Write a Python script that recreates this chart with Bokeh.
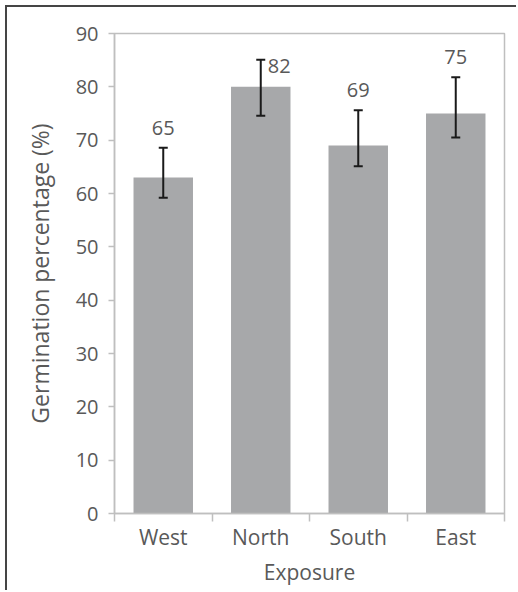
from bokeh.plotting import figure
from bokeh.models import ColumnDataSource, FixedTicker, Range1d
from bokeh.core.properties import value
from bokeh.embed import file_html
from bokeh.resources import INLINE

categories = ["West", "North", "South", "East"]
germination = [63, 80, 69, 75]
err_low = [59.2, 74.6, 65.1, 70.5]
err_high = [68.6, 85.1, 75.6, 81.8]
label_values = ["65", "82", "69", "75"]
y_ticks = [0, 10, 20, 30, 40, 50, 60, 70, 80, 90]

FONT = "Open Sans"
TXT = "#595959"
AXC = "#BFBFBF"

xpos = [i + 0.5 for i in range(len(categories))]
src = ColumnDataSource(dict(x=xpos, top=germination, lo=err_low, hi=err_high))

p = figure(width=511, height=585, output_backend="svg", toolbar_location=None,
           x_range=Range1d(0, len(categories)), y_range=Range1d(0, 90),
           min_border_left=107, min_border_right=14, min_border_top=26, min_border_bottom=79)
p.margin = (5, 0, 0, 5)
p.styles = {"border-left": "2px solid #454545", "border-top": "2px solid #454545"}
p.outline_line_color = AXC
p.outline_line_width = 1.5
p.xgrid.visible = False
p.ygrid.visible = False

p.vbar(x="x", top="top", width=0.61, source=src, fill_color="#A7A8AA", line_color=None)

# error bars with caps, drawn above bars
p.segment(x0="x", y0="lo", x1="x", y1="hi", source=src, line_color="#1a1a1a", line_width=2)
p.rect(x="x", y="lo", width=9, height=2, width_units="screen", height_units="screen",
       source=src, fill_color="#1a1a1a", line_color=None)
p.rect(x="x", y="hi", width=9, height=2, width_units="screen", height_units="screen",
       source=src, fill_color="#1a1a1a", line_color=None)

# labels above error bars (North's label sits to the right of its cap)
north = categories.index("North")
others = [i for i in range(len(categories)) if i != north]
src_o = ColumnDataSource(dict(x=[xpos[i] for i in others], y=[err_high[i] for i in others],
                              lab=[label_values[i] for i in others]))
p.text(x="x", y="y", text="lab", source=src_o, text_font=value(FONT), text_font_size="20px",
       text_color=TXT, text_align="center", text_baseline="middle", y_offset=-20)
src_n = ColumnDataSource(dict(x=[xpos[north]], y=[err_high[north]], lab=[label_values[north]]))
p.text(x="x", y="y", text="lab", source=src_n, text_font=value(FONT), text_font_size="20px",
       text_color=TXT, text_align="left", text_baseline="middle", x_offset=7, y_offset=6)

# x axis: ticks at category boundaries, labels at centres
xa = p.xaxis[0]
xa.ticker = FixedTicker(ticks=xpos, minor_ticks=list(range(len(categories) + 1)))
xa.major_label_overrides = {x: c for x, c in zip(xpos, categories)}
xa.major_tick_line_color = None
xa.major_tick_out = 8
xa.major_tick_in = 0
xa.minor_tick_line_color = AXC
xa.minor_tick_line_width = 1.5
xa.minor_tick_out = 8
xa.minor_tick_in = 0
xa.axis_line_color = AXC
xa.axis_line_width = 1.5
xa.major_label_text_font = FONT
xa.major_label_text_font_size = "21px"
xa.major_label_text_color = TXT
xa.major_label_standoff = 1
xa.axis_label = "Exposure"
xa.axis_label_text_font = FONT
xa.axis_label_text_font_size = "21px"
xa.axis_label_text_color = TXT
xa.axis_label_text_font_style = "normal"
xa.axis_label_standoff = 4

ya = p.yaxis[0]
ya.ticker = FixedTicker(ticks=y_ticks)
ya.minor_tick_line_color = None
ya.major_tick_line_color = AXC
ya.major_tick_line_width = 1.5
ya.major_tick_out = 6
ya.major_tick_in = 0
ya.axis_line_color = AXC
ya.axis_line_width = 1.5
ya.major_label_text_font = FONT
ya.major_label_text_font_size = "20px"
ya.major_label_text_color = TXT
ya.major_label_standoff = 10
ya.axis_label = "Germination percentage (%)"
ya.axis_label_text_font = FONT
ya.axis_label_text_font_size = "23px"
ya.axis_label_text_color = TXT
ya.axis_label_text_font_style = "normal"
ya.axis_label_standoff = 17

open("out.html", "w").write(file_html(p, INLINE))
